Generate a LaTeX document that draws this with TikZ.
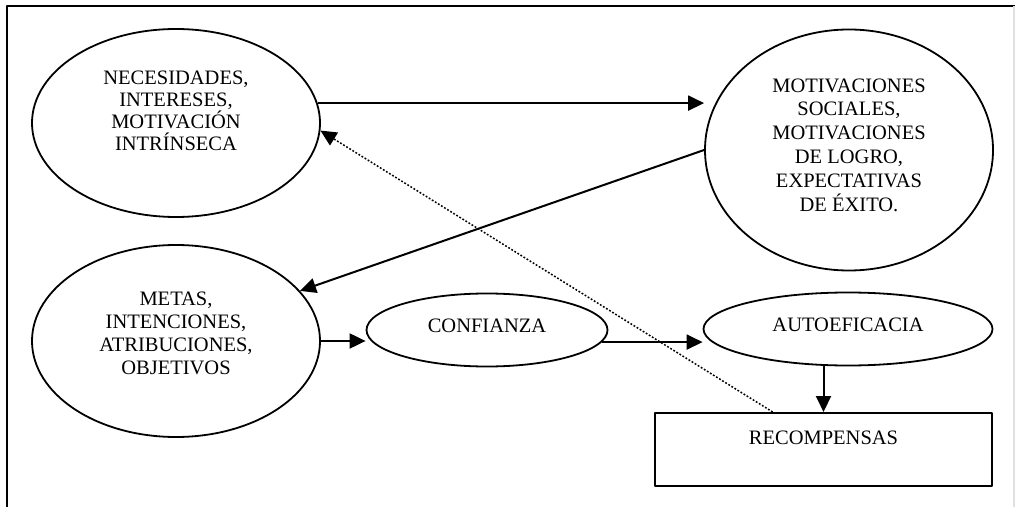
\documentclass[tikz,border=0pt]{standalone}
\usepackage{fontspec}
\setmainfont{Liberation Serif}
\usetikzlibrary{shapes.geometric,arrows.meta,calc}
\begin{document}
\begin{tikzpicture}[x=0.5pt, y=-0.5pt, line join=round,
	elli/.style={draw, ellipse, line width=0.9pt, inner sep=0pt},
	txt/.style={align=center, inner sep=0pt, font=\fontsize{10.25}{#1}\selectfont},
	txt/.default=11.1pt,
	arr/.style={line width=1pt, -{Triangle[length=8pt,width=7.5pt]}},
	dots/.style={line width=0.75pt, dash pattern=on 0.9pt off 0.9pt, -{Triangle[length=8pt,width=7.5pt]}}]
	\useasboundingbox (0,0) rectangle (1015,507);
	% marco
	\draw[line width=1pt] (7,507) -- (7,6) -- (1015,6);
	\draw[black!12, line width=0.6pt] (1014,6) -- (1014,507);
	% elipses y caja
	\node[elli, minimum width=144pt, minimum height=94pt] (nec) at (176,123) {};
	\node[elli, minimum width=144pt, minimum height=120.5pt] (mot) at (849,150) {};
	\node[elli, minimum width=144pt, minimum height=96pt] (meta) at (176,341) {};
	\node[elli, minimum width=120.5pt, minimum height=36.5pt] (conf) at (487,330) {};
	\node[elli, minimum width=144.5pt, minimum height=36.5pt] (auto) at (848,329) {};
	\node[draw, line width=1pt, minimum width=168.5pt, minimum height=36.5pt, inner sep=0pt] (rec) at (823.5,449.5) {};
	% textos
	\node[txt] (nec-t) at ([yshift=6pt]nec) {NECESIDADES,\\INTERESES,\\MOTIVACIÓN\\INTRÍNSECA};
	\node[txt=11.9pt] (mot-t) at ([yshift=2.5pt]mot) {MOTIVACIONES\\SOCIALES,\\MOTIVACIONES\\DE LOGRO,\\EXPECTATIVAS\\DE ÉXITO.};
	\node[txt=11.5pt] (meta-t) at ([yshift=3.75pt]meta) {METAS,\\INTENCIONES,\\ATRIBUCIONES,\\OBJETIVOS};
	\node[txt] (conf-t) at ([yshift=2pt]conf) {CONFIANZA};
	\node[txt] (auto-t) at ([yshift=2pt]auto) {AUTOEFICACIA};
	\node[txt] (rec-t) at ([yshift=6pt]rec) {RECOMPENSAS};
	% flechas
	\draw[arr] (nec.8.5) -- (nec.8.5 -| mot.west);
	\draw[arr] (mot.west) -- (meta.22);
	\draw[arr] (meta.east) -- (meta.east -| conf.west);
	\draw[arr] (conf.-6) -- (conf.-6 -| auto.west);
	\draw[arr] (rec.north |- auto.south) -- (rec.north);
	\draw[dots] ($(rec.north west)!0.35!(rec.north east)$) -- (nec.-3);
\end{tikzpicture}
\end{document}
